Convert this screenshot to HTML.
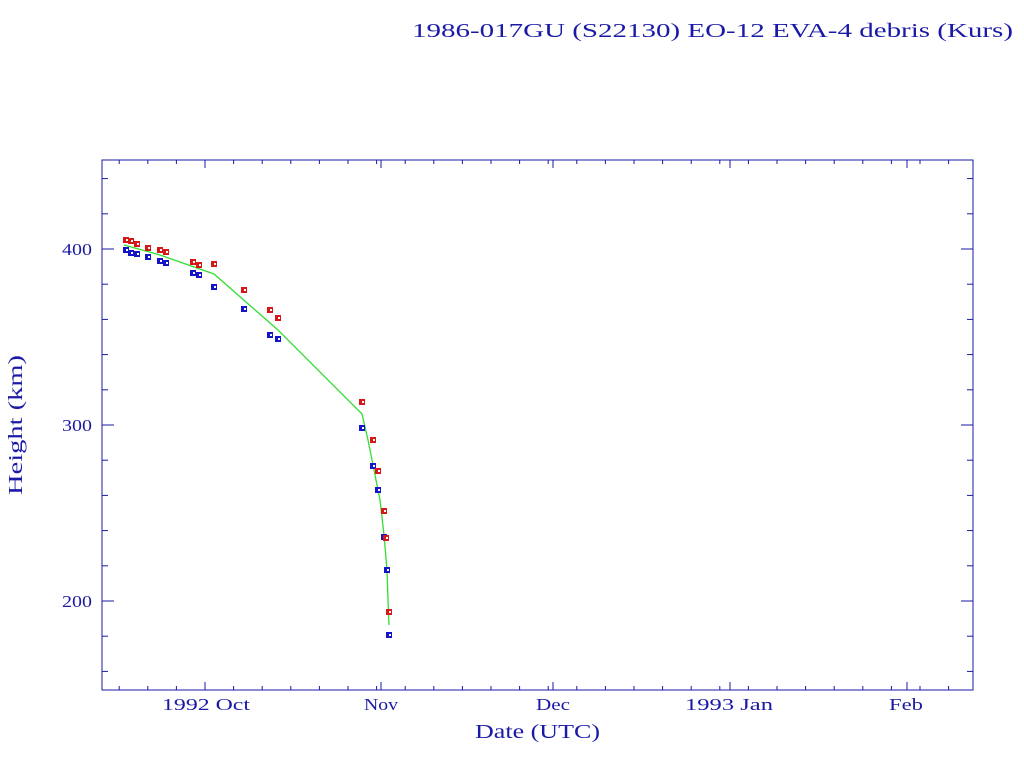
<!DOCTYPE html>
<html><head><meta charset="utf-8"><style>
html,body{margin:0;padding:0;background:#fff;width:1024px;height:768px;overflow:hidden}
text{font-family:"Liberation Serif",serif;fill:#1a1aa6}
</style></head><body>
<svg id="s" width="1024" height="768" xmlns="http://www.w3.org/2000/svg">
<text x="412" y="37" font-size="20" textLength="601" lengthAdjust="spacingAndGlyphs">1986-017GU (S22130) EO-12 EVA-4 debris (Kurs)</text>
<rect x="102" y="160" width="871" height="530" fill="none" stroke="#1a1aa6" stroke-width="1"/>
<g id="ticks" stroke="#1a1aa6" stroke-width="1"></g>
<text x="62" y="255" font-size="17" textLength="30" lengthAdjust="spacingAndGlyphs">400</text>
<text x="62" y="431" font-size="17" textLength="30" lengthAdjust="spacingAndGlyphs">300</text>
<text x="62" y="607" font-size="17" textLength="30" lengthAdjust="spacingAndGlyphs">200</text>
<text x="162" y="710" font-size="17" textLength="88" lengthAdjust="spacingAndGlyphs">1992 Oct</text>
<text x="364" y="710" font-size="17" textLength="34" lengthAdjust="spacingAndGlyphs">Nov</text>
<text x="536" y="710" font-size="17" textLength="34" lengthAdjust="spacingAndGlyphs">Dec</text>
<text x="685" y="710" font-size="17" textLength="88" lengthAdjust="spacingAndGlyphs">1993 Jan</text>
<text x="889" y="710" font-size="17" textLength="34" lengthAdjust="spacingAndGlyphs">Feb</text>
<text x="475" y="738" font-size="20" textLength="125" lengthAdjust="spacingAndGlyphs">Date (UTC)</text>
<text transform="translate(22,495) rotate(-90)" font-size="20" textLength="140" lengthAdjust="spacingAndGlyphs">Height (km)</text>
<polyline fill="none" stroke="#33dd33" stroke-width="1.3" points="124,245 160,255 214,274 278,330 362,414 368,440 374,470 380,500 384,535 387,570 388,600 389,625"/>
<g id="pts"></g>
</svg>
<script>
var ns="http://www.w3.org/2000/svg",t=document.getElementById("ticks"),p=document.getElementById("pts");
function L(x1,y1,x2,y2){var l=document.createElementNS(ns,"line");l.setAttribute("x1",x1);l.setAttribute("y1",y1);l.setAttribute("x2",x2);l.setAttribute("y2",y2);t.appendChild(l);}
for(var v=160;v<=440;v+=20){var y=249+(400-v)*1.76;var len=(v%100==0)?12:6;L(102,y,102+len,y);L(973,y,973-len,y);}
for(var k=-3;k<27;k++){var x=205+28.6*k;if(x<103||x>972)continue;L(x,690,x,686);L(x,160,x,164);}
[205,381,553,730,907].forEach(function(x){L(x,690,x,682);L(x,160,x,168);});
function P(x,y,c){var r=document.createElementNS(ns,"rect");r.setAttribute("x",x-3);r.setAttribute("y",y-3);r.setAttribute("width",6);r.setAttribute("height",6);r.setAttribute("fill",c);p.appendChild(r);var w=document.createElementNS(ns,"rect");w.setAttribute("x",x);w.setAttribute("y",y-1);w.setAttribute("width",2);w.setAttribute("height",2);w.setAttribute("fill","#fff");p.appendChild(w);}
var B=[[126,250],[131,253],[137,254],[148,257],[160,261],[166,263],[193,273],[199,275],[214,287],[244,309],[270,335],[278,339],[362,428],[373,466],[378,490],[384,537],[387,570],[389,635]];
var R=[[126,240],[131,241],[137,244],[148,248],[160,250],[166,252],[193,262],[199,265],[214,264],[244,290],[270,310],[278,318],[362,402],[373,440],[378,471],[384,511],[386,538],[389,612]];
B.forEach(function(a){P(a[0],a[1],"#1414c8");});
R.forEach(function(a){P(a[0],a[1],"#d81818");});
</script>
</body></html>
